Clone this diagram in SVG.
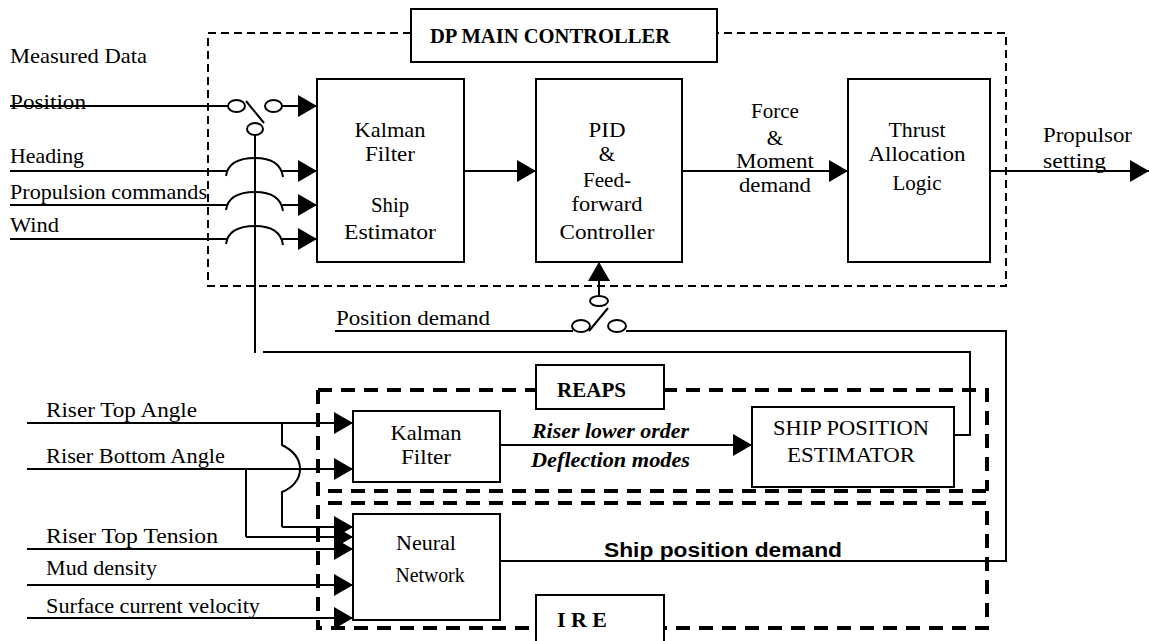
<svg xmlns="http://www.w3.org/2000/svg" width="1149" height="641" viewBox="0 0 1149 641">
<style>
text{font-family:"Liberation Serif","Times New Roman",serif;font-size:21px;fill:#000}
.c{text-anchor:middle}
.b{font-weight:bold}
.bi{font-weight:bold;font-style:italic}
.sans{font-family:"Liberation Sans",Arial,sans-serif;font-weight:bold;font-size:20px}
.box{fill:#fff;stroke:#000;stroke-width:2}
.ln{fill:none;stroke:#000;stroke-width:2}
.arr{fill:none;stroke:#000;stroke-width:2;marker-end:url(#ah)}
.sw{fill:none;stroke:#000;stroke-width:2}
.d1{fill:none;stroke:#000;stroke-width:2;stroke-dasharray:8 5}
.d2{fill:none;stroke:#000;stroke-width:4;stroke-dasharray:14 9}
</style>
<defs>
<marker id="ah" markerUnits="userSpaceOnUse" markerWidth="20" markerHeight="22" refX="19" refY="11" orient="auto">
<path d="M0,0 L19,11 L0,22 z" fill="#000"/>
</marker>
</defs>
<rect width="1149" height="641" fill="#fff"/>

<g id="frames">
<path class="d1" d="M411,33 H208 V286 H1006 V33 H717"/>
<path class="d2" d="M318,390 V630"/>
<path class="d2" d="M318,390 H987 V491"/>
<path class="d2" d="M328,491 H987"/>
<path class="d2" d="M328,503 H987 V628 H318"/>
</g>

<g id="connectors">
<!-- Position with switch -->
<path class="ln" d="M10,106 H228"/>
<ellipse class="sw" cx="236.5" cy="106" rx="8.5" ry="6"/>
<path class="sw" d="M246,101 L264,123"/>
<ellipse class="sw" cx="273.5" cy="106" rx="8.5" ry="6"/>
<ellipse class="sw" cx="255" cy="129" rx="8" ry="6"/>
<path class="arr" d="M282,106 H317"/>
<!-- vertical feedback line -->
<path class="ln" d="M255,135 V353"/>
<!-- Heading / Propulsion / Wind with jumps -->
<path class="ln" d="M10,171 H227"/>
<path class="ln" d="M226,176 C228,162 240,158 255,158 C270,158 281,163 283,177"/>
<path class="arr" d="M282,171 H317"/>
<path class="ln" d="M10,205 H227"/>
<path class="ln" d="M226,210 C228,196 240,192 255,192 C270,192 281,197 283,211"/>
<path class="arr" d="M282,205 H317"/>
<path class="ln" d="M10,239 H227"/>
<path class="ln" d="M226,244 C228,230 240,226 255,226 C270,226 281,231 283,245"/>
<path class="arr" d="M282,239 H317"/>
<!-- main chain -->
<path class="arr" d="M464,171 H536"/>
<path class="arr" d="M682,171 H848"/>
<path class="arr" d="M990,171 H1149"/>
<!-- Position demand switch -->
<path class="ln" d="M335,331 H573"/>
<ellipse class="sw" cx="581" cy="326" rx="9" ry="6"/>
<path class="sw" d="M589,331 L608,308"/>
<ellipse class="sw" cx="617" cy="326" rx="9" ry="6"/>
<ellipse class="sw" cx="599" cy="301" rx="9" ry="5"/>
<path class="arr" d="M599,296 V262"/>
<!-- Ship position demand loop -->
<path class="ln" d="M500,561 H1006 V331 H626"/>
<!-- Estimator output -->
<path class="ln" d="M954,435 H970 V352 H263"/>
<!-- REAPS Kalman -> Estimator -->
<path class="arr" d="M500,445 H752"/>
<!-- Riser inputs -->
<path class="arr" d="M27,423 H353"/>
<path class="ln" d="M282,423 V445 C292,450 300,458 300,469 C300,480 292,488 282,492 V527"/>
<path class="arr" d="M282,527 H353"/>
<path class="arr" d="M27,469 H353"/>
<path class="ln" d="M246,469 V537"/>
<path class="arr" d="M246,537 H353"/>
<path class="arr" d="M27,549 H353"/>
<path class="arr" d="M27,585 H353"/>
<path class="arr" d="M27,618 H353"/>
</g>

<g id="labels">
<text x="10" y="63" textLength="137" lengthAdjust="spacingAndGlyphs">Measured Data</text>
<text x="10" y="109" textLength="76" lengthAdjust="spacingAndGlyphs">Position</text>
<text x="10" y="163" textLength="74" lengthAdjust="spacingAndGlyphs">Heading</text>
<text x="10" y="199" textLength="197" lengthAdjust="spacingAndGlyphs">Propulsion commands</text>
<text x="10" y="232" textLength="49" lengthAdjust="spacingAndGlyphs">Wind</text>
<text x="775" y="118" class="c">Force</text>
<text x="775" y="145" class="c">&amp;</text>
<text x="775" y="168" class="c" textLength="78" lengthAdjust="spacingAndGlyphs">Moment</text>
<text x="775" y="192" class="c" textLength="72" lengthAdjust="spacingAndGlyphs">demand</text>
<text x="1043" y="142" textLength="89" lengthAdjust="spacingAndGlyphs">Propulsor</text>
<text x="1043" y="168" textLength="63" lengthAdjust="spacingAndGlyphs">setting</text>
<text x="336" y="325" textLength="154" lengthAdjust="spacingAndGlyphs">Position demand</text>
<text x="532" y="438" class="bi" textLength="157" lengthAdjust="spacingAndGlyphs">Riser lower order</text>
<text x="531" y="467" class="bi" textLength="159" lengthAdjust="spacingAndGlyphs">Deflection modes</text>
<text x="604" y="557" class="sans" textLength="238" lengthAdjust="spacingAndGlyphs">Ship position demand</text>
<text x="46" y="417" textLength="151" lengthAdjust="spacingAndGlyphs">Riser Top Angle</text>
<text x="46" y="463" textLength="179" lengthAdjust="spacingAndGlyphs">Riser Bottom Angle</text>
<text x="46" y="543" textLength="172" lengthAdjust="spacingAndGlyphs">Riser Top Tension</text>
<text x="46" y="575" textLength="111" lengthAdjust="spacingAndGlyphs">Mud density</text>
<text x="46" y="613" textLength="214" lengthAdjust="spacingAndGlyphs">Surface current velocity</text>
</g>

<g id="dp-title">
<rect class="box" x="411" y="9" width="306" height="53"/>
<text x="430" y="43" class="b" textLength="240" lengthAdjust="spacingAndGlyphs">DP MAIN CONTROLLER</text>
</g>

<g id="kalman-ship-estimator">
<rect class="box" x="317" y="79" width="147" height="183"/>
<text x="390" y="137" class="c" textLength="71" lengthAdjust="spacingAndGlyphs">Kalman</text>
<text x="390" y="161" class="c" textLength="50" lengthAdjust="spacingAndGlyphs">Filter</text>
<text x="390" y="212" class="c" textLength="38" lengthAdjust="spacingAndGlyphs">Ship</text>
<text x="390" y="239" class="c" textLength="92" lengthAdjust="spacingAndGlyphs">Estimator</text>
</g>

<g id="pid-controller">
<rect class="box" x="536" y="79" width="146" height="183"/>
<text x="607" y="137" class="c" textLength="37" lengthAdjust="spacingAndGlyphs">PID</text>
<text x="607" y="161" class="c">&amp;</text>
<text x="607" y="187" class="c" textLength="48" lengthAdjust="spacingAndGlyphs">Feed-</text>
<text x="607" y="211" class="c" textLength="71" lengthAdjust="spacingAndGlyphs">forward</text>
<text x="607" y="239" class="c" textLength="95" lengthAdjust="spacingAndGlyphs">Controller</text>
</g>

<g id="thrust-allocation">
<rect class="box" x="848" y="79" width="142" height="183"/>
<text x="917" y="137" class="c" textLength="57" lengthAdjust="spacingAndGlyphs">Thrust</text>
<text x="917" y="161" class="c" textLength="97" lengthAdjust="spacingAndGlyphs">Allocation</text>
<text x="917" y="190" class="c" textLength="49" lengthAdjust="spacingAndGlyphs">Logic</text>
</g>

<g id="reaps-label">
<rect class="box" x="536" y="365" width="128" height="44"/>
<text x="557" y="397" class="b" textLength="69" lengthAdjust="spacingAndGlyphs">REAPS</text>
</g>

<g id="reaps-kalman">
<rect class="box" x="353" y="411" width="147" height="71"/>
<text x="426" y="440" class="c" textLength="71" lengthAdjust="spacingAndGlyphs">Kalman</text>
<text x="426" y="464" class="c" textLength="50" lengthAdjust="spacingAndGlyphs">Filter</text>
</g>

<g id="ship-position-estimator">
<rect class="box" x="752" y="407" width="202" height="80"/>
<text x="851" y="435" class="c" textLength="156" lengthAdjust="spacingAndGlyphs">SHIP POSITION</text>
<text x="851" y="462" class="c" textLength="128" lengthAdjust="spacingAndGlyphs">ESTIMATOR</text>
</g>

<g id="neural-network">
<rect class="box" x="353" y="514" width="147" height="106"/>
<text x="426" y="550" class="c" textLength="60" lengthAdjust="spacingAndGlyphs">Neural</text>
<text x="430" y="582" class="c" textLength="69" lengthAdjust="spacingAndGlyphs">Network</text>
</g>

<g id="ire-label">
<rect class="box" x="536" y="595" width="128" height="50"/>
<text x="557" y="627" class="b" textLength="50" lengthAdjust="spacingAndGlyphs">I R E</text>
</g>
</svg>
